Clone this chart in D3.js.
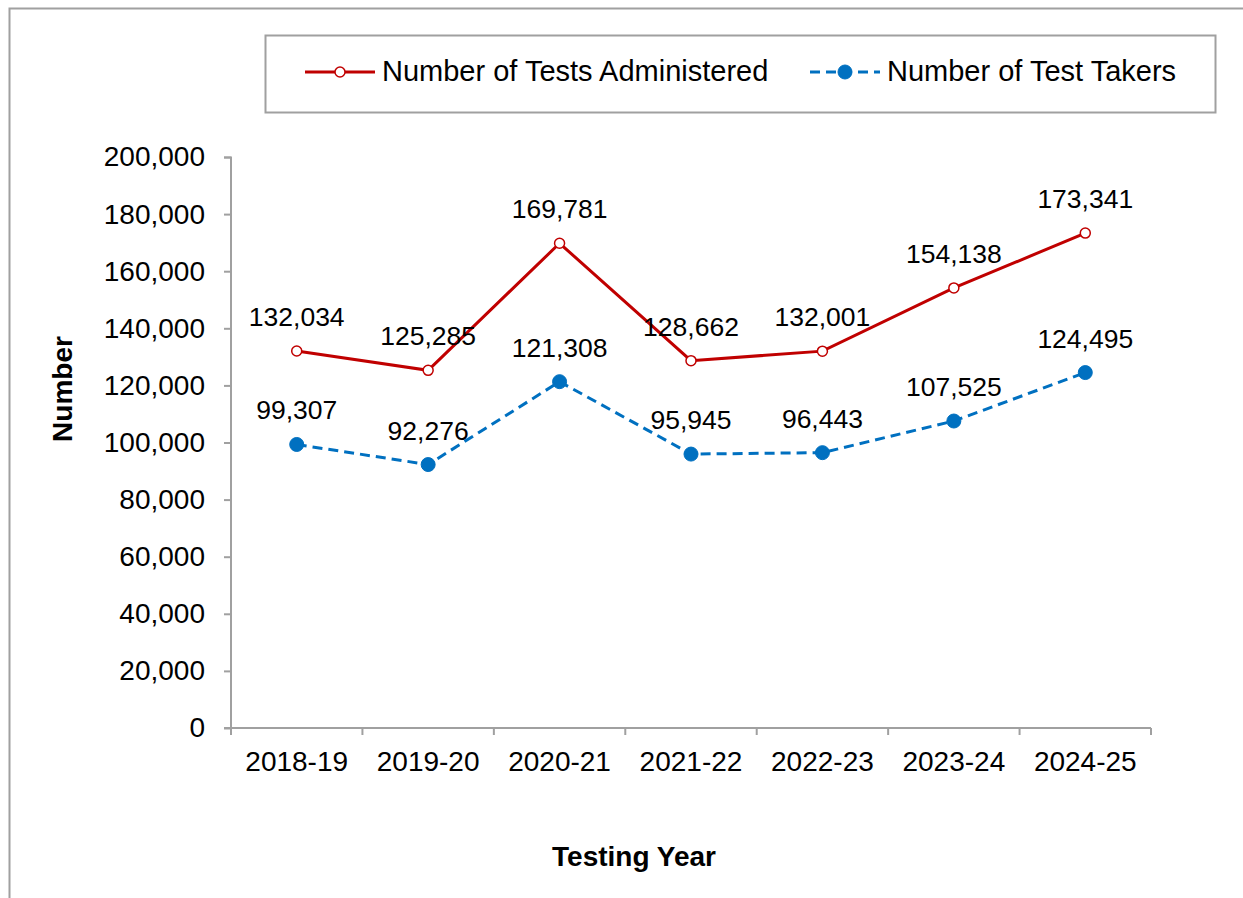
<!DOCTYPE html>
<html>
<head>
<meta charset="utf-8">
<script src="https://cdn.jsdelivr.net/npm/d3@7"></script>
<style>
  body { margin: 0; background: #fff; }
  text { font-family: "Liberation Sans", Arial, sans-serif; fill: #000; }
</style>
</head>
<body>
<svg id="chart" width="1243" height="898"></svg>
<script>
// data
const years = ['2018-19', '2019-20', '2020-21', '2021-22', '2022-23', '2023-24', '2024-25'];
const testsAdministered = [132034, 125285, 169781, 128662, 132001, 154138, 173341];
const testTakers = [99307, 92276, 121308, 95945, 96443, 107525, 124495];
const yTicks = [0, 20000, 40000, 60000, 80000, 100000, 120000, 140000, 160000, 180000, 200000];

const svg = d3.select('#chart');
const grey = '#a0a0a0';
const red = '#c00000';
const blue = '#0070c0';

const margin = { top: 157, left: 231, right: 92, bottom: 170 };
const width = 1243 - margin.left - margin.right;
const height = 898 - margin.top - margin.bottom;

// outer frame (only top and left visible)
svg.append('path')
    .attr('d', 'M9.5,898 V8.5 H1243')
    .attr('fill', 'none')
    .attr('stroke', grey)
    .attr('stroke-width', 2);

const g = svg.append('g')
    .attr('transform', `translate(${margin.left},${margin.top})`);

const x = d3.scaleBand().domain(years).range([0, width]);
const y = d3.scaleLinear().domain([0, 200000]).range([height, 0]);

// y axis
const yAxis = g.append('g')
    .call(d3.axisLeft(y).tickValues(yTicks).tickFormat(d3.format(',')).tickSize(7).tickPadding(19));
yAxis.select('.domain').attr('stroke', grey).attr('stroke-width', 2).attr('d', `M-7,0.5H0V${height}H-7`);
yAxis.selectAll('.tick line').attr('stroke', grey).attr('stroke-width', 2);
yAxis.selectAll('.tick text').style('font-size', '28px').attr('fill', '#000');

// x axis, ticks at category boundaries
const xAxis = g.append('g').attr('transform', `translate(0,${height})`);
xAxis.append('line')
    .attr('x1', 0).attr('x2', width)
    .attr('stroke', grey).attr('stroke-width', 2);
xAxis.selectAll('.xtick')
    .data(years.concat(['end']))
    .enter().append('line')
    .attr('x1', (d, i) => i < years.length ? x(d) : width)
    .attr('x2', (d, i) => i < years.length ? x(d) : width)
    .attr('y1', 0).attr('y2', 7)
    .attr('stroke', grey).attr('stroke-width', 2);
xAxis.selectAll('.xlabel')
    .data(years)
    .enter().append('text')
    .attr('x', d => x(d) + x.bandwidth() / 2)
    .attr('y', 43)
    .attr('text-anchor', 'middle')
    .style('font-size', '28px')
    .text(d => d);

// axis titles
svg.append('text')
    .attr('transform', 'translate(72,389) rotate(-90)')
    .attr('text-anchor', 'middle')
    .style('font-size', '28px')
    .style('font-weight', 'bold')
    .text('Number');
svg.append('text')
    .attr('x', 634).attr('y', 866)
    .attr('text-anchor', 'middle')
    .style('font-size', '28px')
    .style('font-weight', 'bold')
    .text('Testing Year');

const cx = d => x(d) + x.bandwidth() / 2;
const line = d3.line().x(d => cx(d.year)).y(d => y(d.value));

const series = [
    { values: testsAdministered, color: red, dash: null, filled: false, r: 5 },
    { values: testTakers, color: blue, dash: '10,6', filled: true, r: 7 }
];

series.forEach(s => {
    const pts = years.map((yr, i) => ({ year: yr, value: s.values[i] }));
    g.append('path')
        .datum(pts)
        .attr('fill', 'none')
        .attr('stroke', s.color)
        .attr('stroke-width', 3)
        .attr('stroke-dasharray', s.dash)
        .attr('d', line);
    g.selectAll(null)
        .data(pts)
        .enter().append('circle')
        .attr('cx', d => cx(d.year))
        .attr('cy', d => y(d.value))
        .attr('r', s.r)
        .attr('fill', s.filled ? s.color : '#fff')
        .attr('stroke', s.color)
        .attr('stroke-width', s.filled ? 1 : 1.5);
    g.selectAll(null)
        .data(pts)
        .enter().append('text')
        .attr('x', d => cx(d.year))
        .attr('y', d => y(d.value) - 25)
        .attr('text-anchor', 'middle')
        .style('font-size', '26.5px')
        .text(d => d3.format(',')(d.value));
});

// legend
const legend = svg.append('g');
legend.append('rect')
    .attr('x', 265.5).attr('y', 35.5)
    .attr('width', 950).attr('height', 77)
    .attr('fill', '#fff')
    .attr('stroke', grey).attr('stroke-width', 2);

const legendItems = [
    { label: 'Number of Tests Administered', color: red, dash: null, filled: false, r: 5, x: 305 },
    { label: 'Number of Test Takers', color: blue, dash: '10,6', filled: true, r: 7, x: 810 }
];
legendItems.forEach(it => {
    legend.append('line')
        .attr('x1', it.x).attr('x2', it.x + 70)
        .attr('y1', 72).attr('y2', 72)
        .attr('stroke', it.color).attr('stroke-width', 3)
        .attr('stroke-dasharray', it.dash);
    legend.append('circle')
        .attr('cx', it.x + 35).attr('cy', 72)
        .attr('r', it.r)
        .attr('fill', it.filled ? it.color : '#fff')
        .attr('stroke', it.color)
        .attr('stroke-width', it.filled ? 1 : 1.5);
    legend.append('text')
        .attr('x', it.x + 77).attr('y', 81)
        .style('font-size', '29px')
        .text(it.label);
});
</script>
</body>
</html>
